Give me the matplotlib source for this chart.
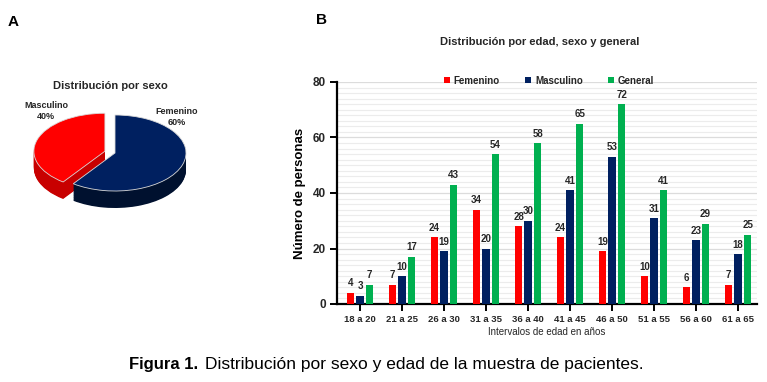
import matplotlib
matplotlib.use("Agg")
import matplotlib.pyplot as plt
import numpy as np

plt.rcParams['font.family'] = ['Liberation Sans', 'DejaVu Sans']

# ---- data ----
pie_labels = ["Femenino", "Masculino"]
pie_values = [60, 40]

categories = ["18 a 20", "21 a 25", "26 a 30", "31 a 35", "36 a 40",
              "41 a 45", "46 a 50", "51 a 55", "56 a 60", "61 a 65"]
femenino = [4, 7, 24, 34, 28, 24, 19, 10, 6, 7]
masculino = [3, 10, 19, 20, 30, 41, 53, 31, 23, 18]
general = [7, 17, 43, 54, 58, 65, 72, 41, 29, 25]
series_names = ["Femenino", "Masculino", "General"]
yticks = [0, 20, 40, 60, 80]

W, H = 767, 382
fig = plt.figure(figsize=(W / 100, H / 100), dpi=100)

def fx(px):
    return px / W

def fy(py):
    return 1 - py / H

RED = "#FF0000"
NAVY = "#002060"
GREEN = "#00B050"
TXT = "#262626"

# ---- panel labels ----
fig.text(fx(8), fy(22), "A", fontsize=11, fontweight="bold", va="center", ha="left")
fig.text(fx(316), fy(20), "B", fontsize=11, fontweight="bold", va="center", ha="left")

# ---- pie (pseudo 3D) ----
ax_l, ax_r, ax_t, ax_b = 10, 230, 95, 235
cx, cy = 115, 153
rx, ry = 71.0, 38.0
axp = fig.add_axes([fx(ax_l), fy(ax_b), fx(ax_r - ax_l), (ax_b - ax_t) / H])
top_cols = [NAVY, RED]
side_cols = ["#00112f", "#c80000"]
explode = [0.0, 0.15]
depth = 17 / ry
nlay = 24
for k in range(nlay, 0, -1):
    off = depth * k / nlay
    axp.pie(pie_values, startangle=90, counterclock=False, colors=side_cols,
            explode=explode, center=(0, -off), radius=1.0,
            wedgeprops=dict(edgecolor="none", linewidth=0))
axp.pie(pie_values, startangle=90, counterclock=False, colors=top_cols,
        explode=explode, center=(0, 0), radius=1.0,
        wedgeprops=dict(edgecolor="#d9d9d9", linewidth=0.6))
axp.set_aspect("auto")
axp.set_xlim((ax_l - cx) / rx, (ax_r - cx) / rx)
axp.set_ylim(-(ax_b - cy) / ry, (cy - ax_t) / ry)
axp.axis("off")

fig.text(fx(110), fy(86), "Distribución por sexo", fontsize=8, fontweight="bold",
         ha="center", va="center", color=TXT)
fig.text(fx(46), fy(111), f"{pie_labels[1]}\n{pie_values[1]}%", fontsize=6.5,
         fontweight="bold", ha="center", va="center", color=TXT, linespacing=1.3)
fig.text(fx(177), fy(117), f"{pie_labels[0]}\n{pie_values[0]}%", fontsize=6.5,
         fontweight="bold", ha="center", va="center", color=TXT, linespacing=1.3)

# ---- bar chart ----
L, R, T, B = 337, 757, 82, 304
ax = fig.add_axes([fx(L), fy(B), fx(R - L), (B - T) / H])
x = np.arange(len(categories))
off = 0.226
bw = 0.18
cols = [RED, NAVY, GREEN]
data = [femenino, masculino, general]
for i, (vals, c, name) in enumerate(zip(data, cols, series_names)):
    xs = x + (i - 1) * off
    ax.bar(xs, vals, width=bw, color=c, label=name, zorder=3)
    for xv, v in zip(xs, vals):
        ax.text(xv, v + 1.6, str(v), ha="center", va="bottom", fontsize=7,
                fontweight="bold", color=TXT, zorder=4)

ax.set_xlim(-0.55, 9.45)
ax.set_ylim(0, 80)
ax.set_yticks(yticks)
ax.set_yticks(np.arange(0, 81, 2), minor=True)
ax.grid(axis="y", which="minor", color="#ececec", linewidth=0.8, zorder=0)
ax.grid(axis="y", which="major", color="#dcdcdc", linewidth=0.9, zorder=0)
ax.set_xticks(x)
ax.set_xticklabels(categories, fontsize=6.8, fontweight="bold", color=TXT)
ax.tick_params(axis="y", which="minor", length=0)
ax.tick_params(axis="y", which="major", labelsize=8.5, length=5, width=1.4, pad=3)
for lab in ax.get_yticklabels():
    lab.set_fontweight("bold")
    lab.set_color(TXT)
ax.tick_params(axis="x", length=5, width=1.4, pad=3)
for s in ["top", "right"]:
    ax.spines[s].set_visible(False)
for s in ["left", "bottom"]:
    ax.spines[s].set_linewidth(1.6)
    ax.spines[s].set_color("black")
ax.set_ylabel("Número de personas", fontsize=9.5, fontweight="bold", labelpad=5)
ax.set_xlabel("Intervalos de edad en años", fontsize=7, color=TXT, labelpad=2)
leg = ax.legend(loc="upper center", bbox_to_anchor=(0.505, 1.068), ncol=3, frameon=False,
                handlelength=0.6, handleheight=0.6, columnspacing=2.6,
                handletextpad=0.4, prop=dict(weight="bold", size=7))
for t in leg.get_texts():
    t.set_color(TXT)

fig.text(fx(540), fy(42), "Distribución por edad, sexo y general", fontsize=8,
         fontweight="bold", ha="center", va="center", color=TXT)

# ---- caption ----
fig.text(fx(129), fy(364), "Figura 1.", fontsize=12, fontweight="bold",
         ha="left", va="center")
fig.text(fx(205), fy(364), "Distribución por sexo y edad de la muestra de pacientes.",
         fontsize=12.5, ha="left", va="center")

fig.savefig("out.png", dpi=100)
